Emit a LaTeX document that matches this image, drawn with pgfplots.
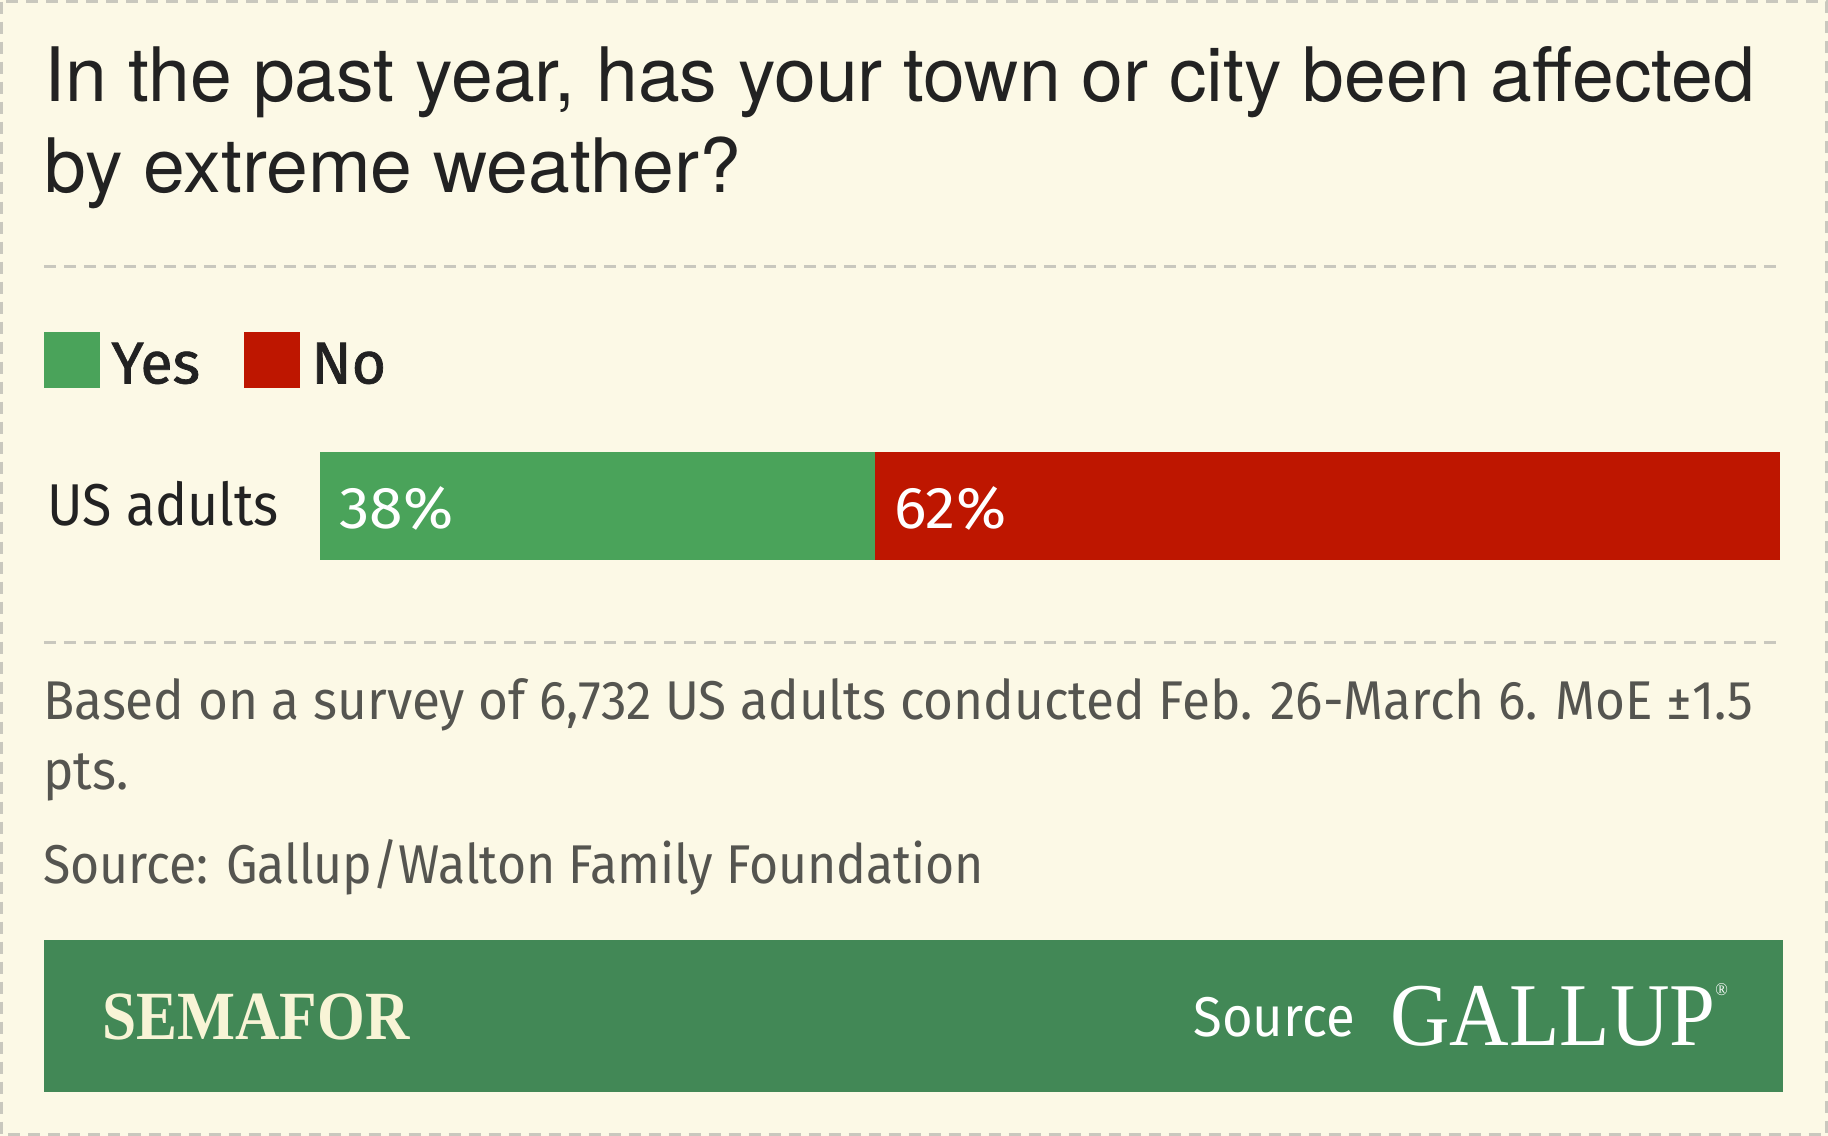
\documentclass[border=0pt]{standalone}
\usepackage{pgfplots}
\pgfplotsset{compat=1.18}
\usepackage{fontspec}
\setmainfont{Fira Sans}[FakeStretch=0.94]
\newfontfamily\srcfont{Fira Sans}[FakeStretch=0.915]
\newfontfamily\labfont{Fira Sans}[FakeStretch=0.91]
\newfontfamily\pctfont{Fira Sans}[FakeStretch=1.03]
\newfontfamily\legfont{Fira Sans}[FakeStretch=1.0,FakeBold=1.2]
\newfontfamily\titlefont{TeX Gyre Heros}
\newfontfamily\semfont{Liberation Serif Bold}[FakeStretch=0.89]
\newfontfamily\galfont{Liberation Serif}[FakeStretch=0.92]
\definecolor{bg}{HTML}{FCF9E6}
\definecolor{bordergray}{HTML}{C9C8BE}
\definecolor{yesgreen}{HTML}{4AA35A}
\definecolor{nored}{HTML}{BE1600}
\definecolor{footgreen}{HTML}{428856}
\definecolor{titlecol}{HTML}{222222}
\definecolor{notecol}{HTML}{555550}
\definecolor{cream}{HTML}{F8F4D6}
\begin{document}
\begin{tikzpicture}[x=1pt,y=1pt]
% background and border
\fill[bg] (0pt,0pt) rectangle (914pt,-568pt);
\draw[bordergray, line width=1.5pt, dash pattern=on 6pt off 4pt] (0.75pt,-0.75pt) rectangle (913.25pt,-567.25pt);
% title
\node[anchor=base west, inner sep=0, text=titlecol, font=\titlefont\fontsize{37.55}{45}\selectfont] at (22.2pt,-50.5pt) {In the past year, has your town or city been affected};
\node[anchor=base west, inner sep=0, text=titlecol, font=\titlefont\fontsize{37.55}{45}\selectfont] at (22.2pt,-96pt) {by extreme weather?};
% separators
\draw[bordergray, line width=1.5pt, dash pattern=on 6pt off 4pt] (22.2pt,-133pt) -- (891.6pt,-133pt);
\draw[bordergray, line width=1.5pt, dash pattern=on 6pt off 4pt] (22.2pt,-321pt) -- (891.6pt,-321pt);
% legend
\fill[yesgreen] (22.1pt,-166.2pt) rectangle (49.8pt,-193.8pt);
\node[anchor=base west, inner sep=0, text=titlecol, font=\legfont\fontsize{29.5}{30}\selectfont] at (55.5pt,-191.7pt) {Yes};
\fill[nored] (122pt,-166.2pt) rectangle (150.1pt,-193.8pt);
\node[anchor=base west, inner sep=0, text=titlecol, font=\legfont\fontsize{29.5}{30}\selectfont] at (155.5pt,-191.7pt) {No};
% category label
\node[anchor=base west, inner sep=0, text=titlecol, font=\labfont\fontsize{29.5}{30}\selectfont] at (23.5pt,-262.5pt) {US adults};
% chart
\begin{axis}[
  at={(160pt,-279.8pt)}, anchor=south west,
  width=730pt, height=53.8pt, scale only axis,
  xmin=0, xmax=100, ymin=-0.5, ymax=0.5,
  hide axis, xbar stacked, bar width=53.8pt,
  clip=false
]
\addplot[fill=yesgreen, draw=none] coordinates {(38,0)};
\addplot[fill=nored, draw=none] coordinates {(62,0)};
\coordinate (yesstart) at (axis cs:0,0);
\coordinate (nostart) at (axis cs:38,0);
\end{axis}
\node[anchor=base west, inner sep=0, text=white, font=\pctfont\fontsize{29.5}{30}\selectfont, xshift=9.5pt, yshift=-11.5pt] at (yesstart) {38\%};
\node[anchor=base west, inner sep=0, text=white, font=\pctfont\fontsize{29.5}{30}\selectfont, xshift=9.5pt, yshift=-11.5pt] at (nostart) {62\%};
% notes
\node[anchor=base west, inner sep=0, text=notecol, font=\fontsize{27.3}{30}\selectfont] at (21.5pt,-359.8pt) {Based on a survey of 6,732 US adults conducted Feb. 26-March 6. MoE ±1.5};
\node[anchor=base west, inner sep=0, text=notecol, font=\fontsize{27.3}{30}\selectfont] at (21.5pt,-394.9pt) {pts.};
\node[anchor=base west, inner sep=0, text=notecol, font=\srcfont\fontsize{27.3}{30}\selectfont] at (21.5pt,-441.9pt) {Source: Gallup/Walton Family Foundation};
% footer
\fill[footgreen] (22.2pt,-470.1pt) rectangle (891.6pt,-545.8pt);
\node[anchor=base west, inner sep=0, text=cream, font=\semfont\fontsize{34.5}{34}\selectfont] at (51pt,-519.7pt) {SEMAFOR};
\node[anchor=base west, inner sep=0, text=white, font=\fontsize{28}{28}\selectfont] at (596.5pt,-518pt) {Source};
\node[anchor=base west, inner sep=0, text=white, font=\galfont\fontsize{44.8}{45}\selectfont] at (695pt,-522.5pt) {GALLUP};
\node[anchor=base west, inner sep=0, text=white, font=\galfont\fontsize{9}{9}\selectfont] at (857.5pt,-497.5pt) {®};
\end{tikzpicture}
\end{document}
